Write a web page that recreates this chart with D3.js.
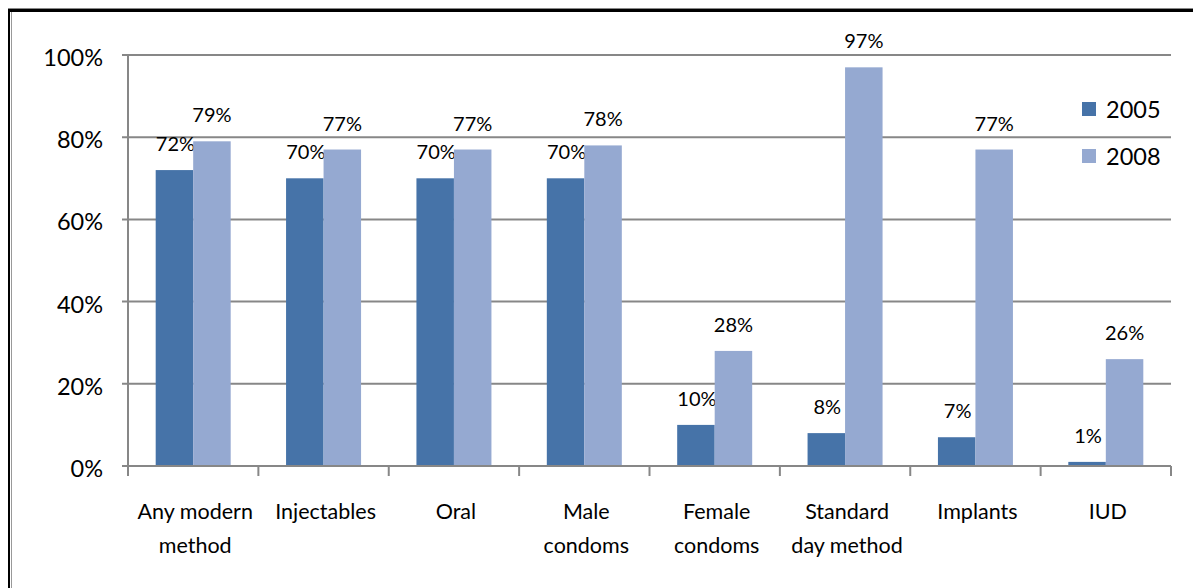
<!DOCTYPE html>
<html><head><meta charset="utf-8">
<script src="https://cdn.jsdelivr.net/npm/d3@7"></script>
<style>html,body{margin:0;padding:0;background:#fff;}svg{display:block;}</style>
</head><body>
<svg id="c" width="1193" height="588"></svg>
<script>
const categories = [["Any modern","method"],["Injectables"],["Oral"],["Male","condoms"],["Female","condoms"],["Standard","day method"],["Implants"],["IUD"]];
const series = ["2005","2008"];
const values2005 = [72,70,70,70,10,8,7,1];
const values2008 = [79,77,77,78,28,97,77,26];
const yTicks = [0,20,40,60,80,100];
const colors = ["#4673A8","#95A9D1"];

const svg = d3.select("#c");
const font = "Lato, 'Open Sans', sans-serif";
const pL = 128, pR = 1171, pT = 55, pB = 466;

// frame
svg.append("line").attr("x1",8).attr("x2",1193).attr("y1",8.5).attr("y2",8.5).attr("stroke","#888").attr("stroke-width",1);
svg.append("line").attr("x1",8).attr("x2",1193).attr("y1",10.5).attr("y2",10.5).attr("stroke","#000").attr("stroke-width",3);
svg.append("line").attr("x1",9).attr("x2",9).attr("y1",9).attr("y2",588).attr("stroke","#000").attr("stroke-width",2);
svg.append("line").attr("x1",11.5).attr("x2",11.5).attr("y1",12).attr("y2",588).attr("stroke","#999").attr("stroke-width",1);

const x = d3.scaleBand().domain(d3.range(categories.length)).range([pL,pR]).paddingInner(0).paddingOuter(0);
const y = d3.scaleLinear().domain([0,100]).range([pB,pT]);
const inner = 75;
const xs = d3.scaleBand().domain(series).range([0,inner]);

// gridlines
svg.append("g").selectAll("line").data(yTicks).join("line")
  .attr("x1",pL-6).attr("x2",pR).attr("y1",d=>y(d)).attr("y2",d=>y(d))
  .attr("stroke","#878787").attr("stroke-width",2);
// y labels
svg.append("g").selectAll("text").data(yTicks).join("text")
  .attr("x",103).attr("y",d=>y(d)+2).attr("text-anchor","end").attr("dominant-baseline","central")
  .attr("font-family",font).attr("font-size",23.5).attr("fill","#000").text(d=>d+"%");

// bars
const data = [values2005, values2008];
const g = svg.append("g");
categories.forEach((c,i)=>{
  const x0 = x(i) + (x.bandwidth()-inner)/2;
  series.forEach((s,j)=>{
    const v = data[j][i];
    g.append("rect").attr("x",x0+xs(s)).attr("width",xs.bandwidth())
      .attr("y",y(v)).attr("height",pB-y(v)).attr("fill",colors[j]);
    g.append("text").attr("x",x0+xs(s)+xs.bandwidth()/2 + (j===0?1:0)).attr("y",y(v)-19)
      .attr("text-anchor","middle").attr("font-family",font).attr("font-size",20).attr("fill","#000").text(v+"%");
  });
});

// axes
svg.append("line").attr("x1",pL).attr("x2",pL).attr("y1",pT).attr("y2",pB).attr("stroke","#878787").attr("stroke-width",2);
svg.append("line").attr("x1",pL-6).attr("x2",pR).attr("y1",pB).attr("y2",pB).attr("stroke","#878787").attr("stroke-width",2);
svg.append("g").selectAll("line").data(d3.range(categories.length+1)).join("line")
  .attr("x1",d=>pL+d*x.bandwidth()).attr("x2",d=>pL+d*x.bandwidth()).attr("y1",pB).attr("y2",pB+10)
  .attr("stroke","#878787").attr("stroke-width",2);

// category labels
categories.forEach((c,i)=>{
  c.forEach((line,k)=>{
    svg.append("text").attr("x",x(i)+x.bandwidth()/2+2).attr("y",519+k*34)
      .attr("text-anchor","middle").attr("font-family",font).attr("font-size",21.5).attr("fill","#000").text(line);
  });
});

// legend
series.forEach((s,j)=>{
  svg.append("rect").attr("x",1082).attr("y",102+j*47).attr("width",14).attr("height",14).attr("fill",colors[j]);
  svg.append("text").attr("x",1106).attr("y",118+j*47).attr("font-family",font).attr("font-size",23.5).attr("fill","#000").text(s);
});
</script>
</body></html>
